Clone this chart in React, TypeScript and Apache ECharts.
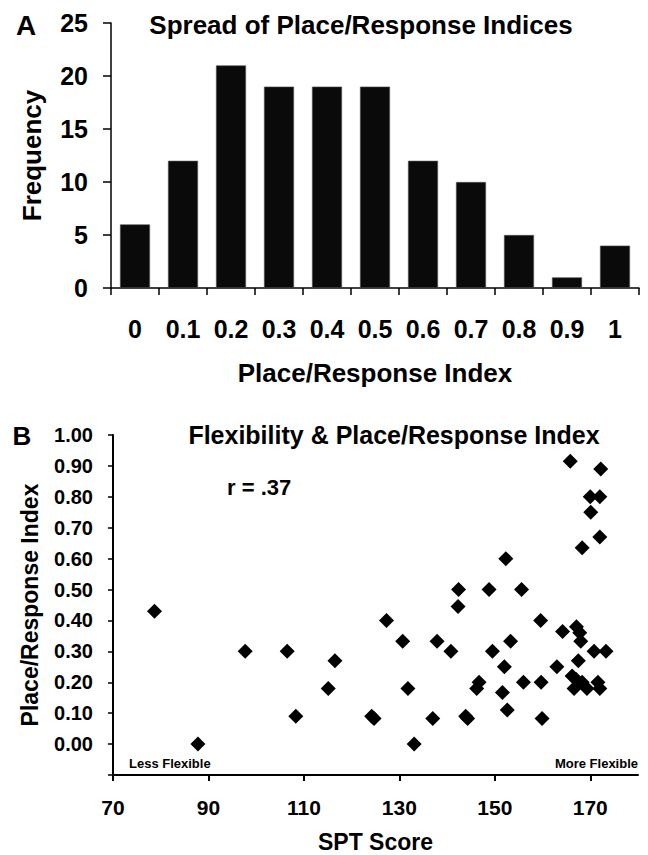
import { useEffect, useRef } from 'react';
import * as echarts from 'echarts';

// Panel A: histogram of Place/Response indices
const histCategories = ['0', '0.1', '0.2', '0.3', '0.4', '0.5', '0.6', '0.7', '0.8', '0.9', '1'];
const histFrequency = [6, 12, 21, 19, 19, 19, 12, 10, 5, 1, 4];

// Panel B: SPT score vs Place/Response index
const sptTicks = [70, 90, 110, 130, 150, 170];
const sptScores = [
  78.7, 87.8, 97.7, 106.5, 108.3, 115.1, 116.5, 124.2, 124.7, 127.3,
  130.7, 131.8, 133.1, 137.0, 137.9, 140.8, 142.3, 142.4, 143.9, 144.3,
  146.2, 146.7, 148.8, 149.5, 151.6, 152.0, 152.3, 152.6, 153.3, 155.6,
  156.0, 159.6, 159.7, 159.9, 163.0, 164.2, 165.8, 166.2, 166.6, 167.0,
  167.1, 167.5, 167.8, 168.0, 168.3, 168.3, 169.3, 170.0, 170.1, 170.8,
  171.6, 172.0, 172.0, 172.0, 172.2, 173.3,
];
const placeResponseIndex = [
  0.43, 0.0, 0.30, 0.30, 0.09, 0.18, 0.27, 0.09, 0.083, 0.40,
  0.333, 0.18, 0.0, 0.083, 0.333, 0.30, 0.445, 0.50, 0.09, 0.083,
  0.18, 0.20, 0.50, 0.30, 0.167, 0.25, 0.60, 0.11, 0.333, 0.50,
  0.20, 0.40, 0.20, 0.083, 0.25, 0.364, 0.915, 0.22, 0.18, 0.21,
  0.38, 0.27, 0.36, 0.333, 0.635, 0.20, 0.18, 0.80, 0.75, 0.30,
  0.20, 0.18, 0.80, 0.67, 0.89, 0.30,
];

const FONT = '"Liberation Sans", Arial, Helvetica, sans-serif';

const txt = (size: number) => ({
  fontFamily: FONT,
  fontSize: size,
  fontWeight: 'bold' as const,
  color: '#000',
});

const label = (text: string, x: number, y: number, size: number, align: string) => ({
  type: 'text',
  x,
  y,
  silent: true,
  style: {
    text,
    font: `bold ${size}px ${FONT}`,
    fill: '#000',
    align,
    verticalAlign: 'middle',
    textAlign: align,
    textVerticalAlign: 'middle',
  },
});

export default function App() {
  const ref = useRef<HTMLDivElement>(null);

  useEffect(() => {
    if (!ref.current) return;
    const chart = echarts.init(ref.current, undefined, { renderer: 'svg' });
    const black = { color: '#000', width: 1.5 };
    chart.setOption({
      animation: false,
      backgroundColor: '#fff',
      grid: [
        { left: 111, top: 23, width: 528, height: 265, containLabel: false, outerBoundsMode: 'none' },
        { left: 113, top: 435, width: 525, height: 340, containLabel: false, outerBoundsMode: 'none' },
      ],
      xAxis: [
        {
          type: 'category',
          gridIndex: 0,
          data: histCategories,
          boundaryGap: true,
          axisLine: { show: true, lineStyle: black },
          axisTick: { show: true, length: 7, lineStyle: black },
          axisLabel: { ...txt(25), margin: 28, interval: 0 },
          splitLine: { show: false },
          name: 'Place/Response Index',
          nameLocation: 'middle',
          nameGap: 72,
          nameTextStyle: txt(26),
        },
        {
          type: 'value',
          gridIndex: 1,
          min: 70,
          max: 180,
          axisLine: { show: true, onZero: false, lineStyle: { color: '#000', width: 2 } },
          axisTick: { show: true, length: 6, customValues: sptTicks, lineStyle: { color: '#000', width: 2 } },
          axisLabel: { ...txt(21), margin: 22, customValues: sptTicks },
          splitLine: { show: false },
          name: 'SPT Score',
          nameLocation: 'middle',
          nameGap: 55,
          nameTextStyle: txt(23),
        },
      ],
      yAxis: [
        {
          type: 'value',
          gridIndex: 0,
          min: 0,
          max: 25,
          interval: 5,
          axisLine: { show: true, lineStyle: black },
          axisTick: { show: true, length: 8, lineStyle: black },
          axisLabel: { ...txt(25), margin: 23 },
          splitLine: { show: false },
          name: 'Frequency',
          nameLocation: 'middle',
          nameGap: 66,
          nameTextStyle: txt(26),
        },
        {
          type: 'value',
          gridIndex: 1,
          min: -0.1,
          max: 1.0,
          interval: 0.1,
          axisLine: { show: true, onZero: false, lineStyle: { color: '#000', width: 2 } },
          axisTick: { show: true, length: 5, lineStyle: { color: '#000', width: 1.5 } },
          axisLabel: {
            ...txt(20),
            margin: 20,
            formatter: (v: number) => (v < -0.001 ? '' : v.toFixed(2)),
          },
          splitLine: { show: false },
          name: 'Place/Response Index',
          nameLocation: 'middle',
          nameGap: 72,
          nameTextStyle: txt(23),
        },
      ],
      series: [
        {
          type: 'bar',
          xAxisIndex: 0,
          yAxisIndex: 0,
          data: histFrequency,
          barWidth: 30,
          itemStyle: { color: '#0a0a0a', borderColor: '#555', borderWidth: 0.6 },
        },
        {
          type: 'scatter',
          xAxisIndex: 1,
          yAxisIndex: 1,
          data: sptScores.map((x, i) => [x, placeResponseIndex[i]]),
          symbol: 'diamond',
          symbolSize: 15,
          itemStyle: { color: '#000', opacity: 1 },
        },
      ],
      graphic: [
        label('A', 26, 25, 28, 'center'),
        label('Spread of Place/Response Indices', 361, 25, 26, 'center'),
        label('B', 22, 436, 26, 'center'),
        label('Flexibility & Place/Response Index', 394, 435, 25, 'center'),
        label('r = .37', 227, 487, 22, 'left'),
        label('Less Flexible', 129, 763, 13, 'left'),
        label('More Flexible', 638, 763, 13, 'right'),
      ],
    });
    return () => chart.dispose();
  }, []);

  return (
    <div
      ref={ref}
      style={{ position: 'fixed', left: 0, top: 0, width: 648, height: 855, background: '#fff' }}
    />
  );
}
